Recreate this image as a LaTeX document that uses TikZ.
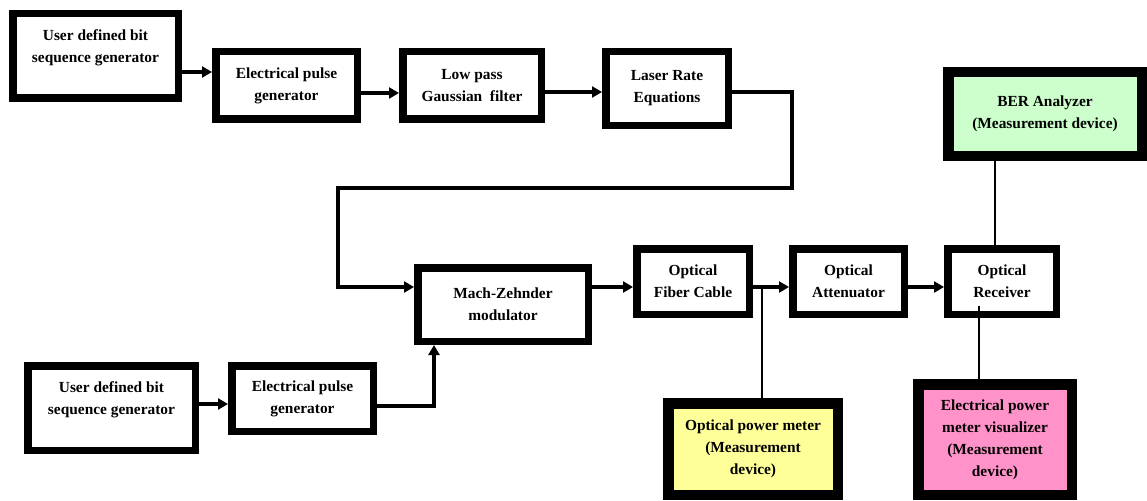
\documentclass[tikz,border=0pt]{standalone}
\usepackage{fontspec}
\setmainfont{Liberation Serif}
\usetikzlibrary{arrows.meta,calc}
\definecolor{bergreen}{HTML}{CCFFCC}
\definecolor{opmyellow}{HTML}{FFFF99}
\definecolor{epmpink}{HTML}{FF93C9}
\begin{document}
\begin{tikzpicture}[x=1pt,y=-1pt,
  blockbox/.style={draw=black,line width=7.5pt,fill=white,inner sep=0pt,align=center,
    font=\fontsize{15.4}{22}\selectfont\bfseries},
  measbox/.style={blockbox,line width=10.5pt},
  txt/.style={align=center,inner sep=0pt,font=\fontsize{15.4}{22}\selectfont\bfseries},
  conn/.style={line width=4pt},
  arr/.style={conn,-{Triangle[length=10pt,width=11pt]}},
  thin/.style={line width=1.4pt}]
\useasboundingbox (0,0) rectangle (1147,500);
% top row
\node[blockbox,minimum width=165.5pt,minimum height=84.5pt] (u1) at (95.5,56) {};
\node[txt] (u1t) at (95.5,47.5) {User defined bit\\sequence generator};
\node[blockbox,minimum width=141.5pt,minimum height=67.5pt] (e1) at (286.5,85.5) {Electrical pulse\\generator};
\node[blockbox,minimum width=138.5pt,minimum height=67.5pt] (lp) at (472,85.5) {Low pass\\Gaussian\ \ filter};
\node[blockbox,minimum width=122.5pt,minimum height=73.5pt] (lr) at (667,88.5) {Laser Rate\\Equations};
% middle row
\node[blockbox,minimum width=170.5pt,minimum height=73.5pt] (mz) at (503,304.5) {Mach-Zehnder\\modulator};
\node[blockbox,minimum width=112.5pt,minimum height=65.5pt] (fc) at (693,281.5) {Optical\\Fiber Cable};
\node[blockbox,minimum width=111.5pt,minimum height=65.5pt] (at) at (848.5,281.5) {Optical\\Attenuator};
\node[blockbox,minimum width=108.5pt,minimum height=65.5pt] (rx) at (1002,281.5) {Optical\\Receiver};
% measurement devices
\node[measbox,fill=bergreen,minimum width=193.5pt,minimum height=83.5pt] (ber) at (1045,114) {BER Analyzer\\(Measurement device)};
\node[measbox,fill=opmyellow,minimum width=169.5pt,minimum height=91.5pt] (opm) at (753,449) {Optical power meter\\(Measurement\\device)};
\node[measbox,fill=epmpink,minimum width=153.5pt,minimum height=110.5pt] (epm) at (995,439.5) {Electrical power\\meter visualizer\\(Measurement\\device)};
% bottom row
\node[blockbox,minimum width=167.5pt,minimum height=84.5pt] (u2) at (111.5,408) {};
\node[txt] (u2t) at (111.5,399.5) {User defined bit\\sequence generator};
\node[blockbox,minimum width=141.5pt,minimum height=65.5pt] (e2) at (302.5,398.5) {Electrical pulse\\generator};
% connectors
\draw[arr] (u1.east|-0,72) -- (e1.west|-0,72);
\draw[arr] (e1.east|-0,93) -- (lp.west|-0,93);
\draw[arr] (lp.east|-0,92) -- (lr.west|-0,92);
\draw[arr] (lr.east|-0,92) -| (792,188) -| (338,287) -- (mz.west|-0,287);
\draw[arr] (mz.east|-0,287) -- (fc.west|-0,287);
\draw[arr] (fc.east|-0,287) -- (at.west|-0,287);
\draw[arr] (at.east|-0,287) -- (rx.west|-0,287);
\coordinate (tap) at (fc.east|-0,287);
\draw[thin] ($(tap)+(9,0)$) -- (opm.north-|762,0);
\draw[thin] (ber.south-|995,0) -- (rx.north-|995,0);
\draw[thin] ($(rx.center)+(-23,24)$) -- (epm.north-|979,0);
\draw[arr] (u2.east|-0,404) -- (e2.west|-0,404);
\draw[arr] (e2.east|-0,406) -| (mz.south-|434,0);
\end{tikzpicture}
\end{document}
